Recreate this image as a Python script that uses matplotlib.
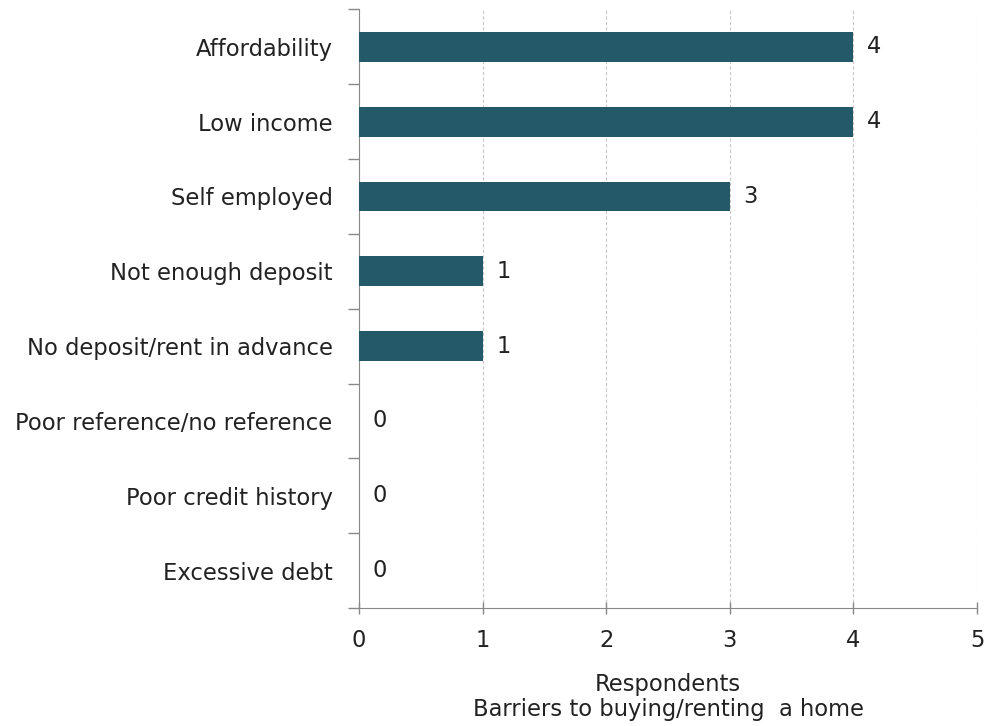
import matplotlib.pyplot as plt
from matplotlib.ticker import FixedLocator

categories = ["Affordability", "Low income", "Self employed", "Not enough deposit",
              "No deposit/rent in advance", "Poor reference/no reference",
              "Poor credit history", "Excessive debt"]
respondents = [4, 4, 3, 1, 1, 0, 0, 0]
x_ticks = [0, 1, 2, 3, 4, 5]

plt.rcParams['font.family'] = ['DejaVu Sans']
FS = 16.3
TXT = "#222222"

fig = plt.figure(figsize=(9.87, 7.26), dpi=100)
ax = fig.add_axes([0.3637, 0.1625, 0.9899 - 0.3637, 0.987 - 0.1625])

pos = list(range(len(categories)))
ax.barh(pos, respondents, height=0.4, color="#235968", zorder=3)

for y, v in zip(pos, respondents):
    ax.annotate(str(v), (v, y), xytext=(10, 0), textcoords="offset points",
                va="center", ha="left", fontsize=FS, color=TXT)

ax.set_xlim(0, 5)
ax.set_ylim(len(categories) - 0.5, -0.5)

ax.set_xticks(x_ticks)
ax.set_xticklabels([str(t) for t in x_ticks], fontsize=FS, color=TXT)
ax.tick_params(axis="x", direction="inout", length=8, width=1, color="#888888", pad=11)

ax.set_yticks(pos)
ax.set_yticklabels(categories, fontsize=FS, color=TXT)
ax.tick_params(axis="y", which="major", length=0, pad=19)
ax.yaxis.set_minor_locator(FixedLocator([p - 0.5 for p in range(len(categories) + 1)]))
ax.tick_params(axis="y", which="minor", direction="out", length=8, width=1, color="#888888")

ax.grid(axis="x", color="#c8c8c8", linestyle=(0, (3, 2)), linewidth=0.8, zorder=0)

for side in ["top", "right"]:
    ax.spines[side].set_visible(False)
ax.spines["left"].set_color("#888888")
ax.spines["bottom"].set_color("#888888")

ax.set_xlabel("Respondents\nBarriers to buying/renting  a home", fontsize=FS,
              color=TXT, labelpad=15, linespacing=1.15)

fig.savefig("out.png", dpi=100)
